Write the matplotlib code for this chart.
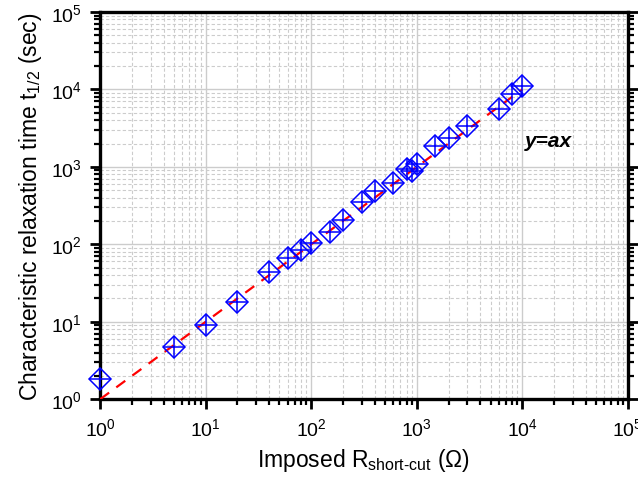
import numpy as np
import matplotlib
matplotlib.use("Agg")
import matplotlib.pyplot as plt
from matplotlib import ticker

plt.rcParams['font.family'] = ['Liberation Sans', 'DejaVu Sans']
plt.rcParams['mathtext.fontset'] = 'custom'
plt.rcParams['mathtext.rm'] = 'Liberation Sans'
plt.rcParams['mathtext.it'] = 'Liberation Sans:italic'

# measured data
r_shortcut = [1, 5, 10, 20, 40, 60, 80, 100, 150, 200, 300, 400, 600,
              800, 900, 1000, 1500, 2000, 3000, 6000, 8000, 10000]
t_half = [1.8, 4.7, 9.0, 17.9, 44, 67, 84, 104, 144, 205, 351, 487, 617,
          937, 883, 1087, 1857, 2355, 3366, 5586, 8715, 11070]

# fit y = a*x
a = 1.0
fit_x = [1, 10000]
fit_y = [a * v for v in fit_x]

fig = plt.figure(figsize=(6.38, 4.81), dpi=100)
ax = fig.add_axes([0.157, 0.168, 0.827, 0.805])

ax.plot(fit_x, fit_y, color='red', ls=(0, (5, 4)), lw=1.6, zorder=3)
ax.plot(r_shortcut, t_half, ls='none', marker='D', ms=11, mfc='none',
        mec='blue', mew=1.1, zorder=4, clip_on=False)
ax.plot(r_shortcut, t_half, ls='none', marker='+', ms=14, mec='blue',
        mew=1.1, zorder=4, clip_on=False)

ax.set_xscale('log')
ax.set_yscale('log')
ax.set_xlim(1, 1e5)
ax.set_ylim(1, 1e5)

ax.xaxis.set_major_locator(ticker.LogLocator(base=10, numticks=10))
ax.yaxis.set_major_locator(ticker.LogLocator(base=10, numticks=10))
ax.xaxis.set_minor_locator(ticker.LogLocator(base=10, subs=np.arange(2, 10), numticks=20))
ax.yaxis.set_minor_locator(ticker.LogLocator(base=10, subs=np.arange(2, 10), numticks=20))
ax.xaxis.set_minor_formatter(ticker.NullFormatter())
ax.yaxis.set_minor_formatter(ticker.NullFormatter())

ax.grid(True, which='major', color='#cccccc', lw=1.0, ls='-')
ax.grid(True, which='minor', color='#cccccc', lw=0.8, ls=(0, (3, 2)))
ax.set_axisbelow(True)

for s in ax.spines.values():
    s.set_linewidth(2.4)
ax.tick_params(which='major', direction='out', length=7, width=2.0,
               labelsize=14, right=True, top=False, pad=6)
ax.tick_params(which='minor', direction='out', length=4, width=1.6,
               right=True, top=False)

ax.set_xlabel(r'Imposed R$_{\mathrm{short\text{-}cut}}$ ($\Omega$)', fontsize=16.5, labelpad=5)
ax.set_ylabel(r'Characteristic relaxation time t$_{1/2}$ (sec)', fontsize=16.5, labelpad=5)

ax.text(0.805, 0.655, 'y=ax', transform=ax.transAxes, fontsize=15,
        fontweight='bold', fontstyle='italic')

fig.savefig('out.png', dpi=100)
